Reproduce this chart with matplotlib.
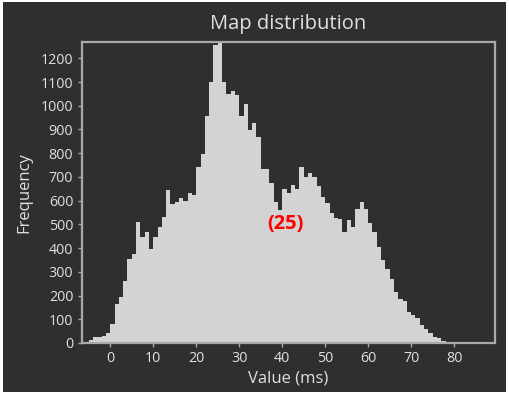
import matplotlib
matplotlib.use("Agg")
import matplotlib.pyplot as plt
from matplotlib.patches import Rectangle
import numpy as np

# ---- data ----
bin_start = -7
bin_width = 1
counts = [2, 3, 13, 24, 25, 29, 41, 80, 163, 195, 261, 353, 375, 511, 445, 468,
          397, 445, 490, 530, 643, 584, 594, 610, 600, 631, 624, 743, 796, 955,
          1099, 1256, 1270, 1099, 1048, 1063, 1045, 955, 1008, 896, 927, 867,
          732, 732, 674, 593, 560, 648, 631, 665, 648, 740, 700, 715, 700, 660,
          617, 592, 550, 528, 522, 469, 518, 490, 566, 593, 563, 507, 468, 406,
          349, 313, 270, 216, 184, 177, 132, 117, 106, 74, 58, 43, 27, 20, 10, 3, 2]
x_ticks = [0, 10, 20, 30, 40, 50, 60, 70, 80]
y_ticks = list(range(0, 1300, 100))
title = "Map distribution"
x_label = "Value (ms)"
y_label = "Frequency"
annotation = "(25)"
annotation_pos = (40.7, 500)

BG = "#2f2f2f"
FG = "#e0e0e0"
SPINE = "#a9a9a9"
BAR = "#d3d3d3"

plt.rcParams['font.family'] = ['Open Sans', 'DejaVu Sans']

fig = plt.figure(figsize=(5.09, 3.96), dpi=100, facecolor="white")
bg = Rectangle((3 / 509, 4 / 396), 503 / 509, 390 / 396,
               transform=fig.transFigure, facecolor=BG,
               edgecolor="none", zorder=-10)
fig.add_artist(bg)
ax = fig.add_axes([81.5 / 509, 1 - 343 / 396, (495 - 81.5) / 509, (343 - 41.7) / 396])
ax.set_zorder(5)
ax.set_facecolor(BG)

lefts = bin_start + bin_width * np.arange(len(counts))
ax.bar(lefts, counts, width=bin_width, align="edge", color=BAR, linewidth=0)

ax.set_xlim(-6.7, 89.5)
ax.set_ylim(0, 1270)
ax.set_xticks(x_ticks)
ax.set_yticks(y_ticks)

for s in ax.spines.values():
    s.set_color(SPINE)
    s.set_linewidth(1.6)
ax.tick_params(colors=SPINE, labelcolor=FG, labelsize=10.3, length=3, width=1, pad=3)

ax.set_title(title, color=FG, fontsize=14.5, pad=9)
ax.set_xlabel(x_label, color=FG, fontsize=12, labelpad=3)
ax.set_ylabel(y_label, color=FG, fontsize=12, labelpad=6)

ax.text(annotation_pos[0], annotation_pos[1], annotation, color="red",
        fontsize=14.5, fontweight="bold", ha="center", va="center")

fig.savefig("out.png", dpi=100, facecolor=fig.get_facecolor())
